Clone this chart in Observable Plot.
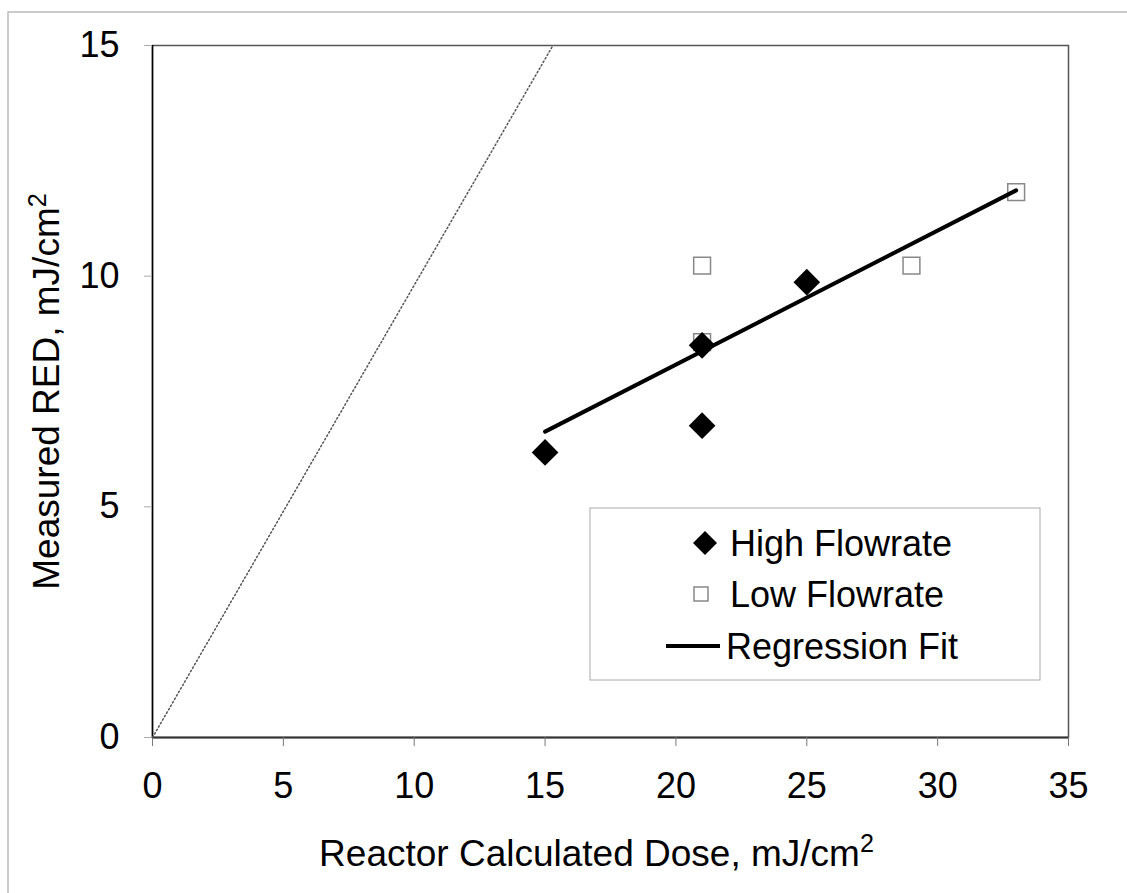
<!DOCTYPE html>
<html><head><meta charset="utf-8">
<script src="https://cdn.jsdelivr.net/npm/d3@7"></script>
<script src="https://cdn.jsdelivr.net/npm/@observablehq/plot@0.6"></script>
<style>
body{margin:0;background:#fff;}
#chart{position:relative;width:1127px;height:893px;}
</style></head><body><div id="chart"></div>
<script>
const highDose = [15, 21, 21, 25];
const highRED = [6.18, 8.5, 6.76, 9.87];
const lowDose = [21, 21, 29, 33];
const lowRED = [10.23, 8.57, 10.23, 11.82];
const fitDose = [15, 33];
const fitRED = [6.63, 11.86];
const refDose = [0, 15.3];
const refRED = [0, 15];
const xTicks = [0, 5, 10, 15, 20, 25, 30, 35];
const yTicks = [0, 5, 10, 15];
const seriesNames = ["High Flowrate", "Low Flowrate", "Regression Fit"];
const xTitle = "Reactor Calculated Dose, mJ/cm²";
const yTitle = "Measured RED, mJ/cm²";

const high = highDose.map((d, i) => ({x: d, y: highRED[i]}));
const low = lowDose.map((d, i) => ({x: d, y: lowRED[i]}));
const fit = fitDose.map((d, i) => ({x: d, y: fitRED[i]}));
const ref = refDose.map((d, i) => ({x: d, y: refRED[i]}));

const FONT = "'Liberation Sans', Arial, sans-serif";

const plot = Plot.plot({
  width: 1127, height: 893,
  marginLeft: 152, marginRight: 59, marginTop: 45, marginBottom: 156,
  style: {fontFamily: FONT, fontSize: "36px", color: "#000", background: "#fff", overflow: "visible"},
  x: {domain: [0, 35], ticks: xTicks},
  y: {domain: [0, 15], ticks: yTicks},
  marks: [
    Plot.frame({stroke: "#555", strokeWidth: 1.5}),
    Plot.ruleX([0], {stroke: "#000", strokeWidth: 1.5}),
    Plot.ruleY([0], {stroke: "#333", strokeWidth: 2}),
    Plot.axisX({ticks: xTicks, tickSize: 9, tickPadding: 26, stroke: "#777", label: null, fontSize: 36}),
    Plot.axisY({ticks: yTicks, tickSize: 8, tickPadding: 25, stroke: "#aaa", label: null, fontSize: 36}),
    Plot.line(ref, {x: "x", y: "y", stroke: "#555", strokeWidth: 1.5, strokeDasharray: "1.5,2.5"}),
    Plot.dot(low, {x: "x", y: "y", symbol: "square", r: 9.5, fill: "none", stroke: "#888", strokeWidth: 1.5}),
    Plot.line(fit, {x: "x", y: "y", stroke: "#000", strokeWidth: 4}),
    Plot.dot(high, {x: "x", y: "y", symbol: "diamond2", r: 12, fill: "#000", stroke: "none"}),
    Plot.text([xTitle], {frameAnchor: "bottom", textAnchor: "middle", dy: 128, dx: -14, fontSize: 37, fill: "#000"}),
    Plot.text([yTitle], {frameAnchor: "left", textAnchor: "middle", rotate: -90, dx: -105, dy: 0, fontSize: 37, fill: "#000"})
  ]
});

document.getElementById("chart").appendChild(plot);

const svg = d3.select(plot);
// render the trailing ² as a raised superscript
svg.selectAll("text").each(function () {
  const t = d3.select(this);
  const s = t.text();
  if (s === xTitle || s === yTitle) {
    t.text(null);
    t.append("tspan").text(s.slice(0, -1));
    t.append("tspan").attr("dy", "-0.55em").attr("font-size", "0.68em").text("2");
  }
});
// outer border
svg.insert("rect", ":first-child")
  .attr("x", 8).attr("y", 12).attr("width", 1140).attr("height", 900)
  .attr("fill", "none").attr("stroke", "#aaa").attr("stroke-width", 1.2);

// legend
const lg = svg.append("g").attr("font-family", FONT).attr("font-size", 36).attr("text-anchor", "start");
lg.append("rect").attr("x", 590).attr("y", 508).attr("width", 450).attr("height", 172)
  .attr("fill", "#fff").attr("stroke", "#aaa").attr("stroke-width", 1);
lg.append("path").attr("d", "M705,531 L717,543 L705,555 L693,543 Z").attr("fill", "#000");
lg.append("rect").attr("x", 694).attr("y", 587).attr("width", 14).attr("height", 14)
  .attr("fill", "none").attr("stroke", "#888").attr("stroke-width", 1.5);
lg.append("line").attr("x1", 666).attr("x2", 720).attr("y1", 646).attr("y2", 646)
  .attr("stroke", "#000").attr("stroke-width", 4);
[[730, 556], [730, 607], [726, 659]].forEach(([x, y], i) => {
  lg.append("text").attr("x", x).attr("y", y).attr("fill", "#000").attr("text-anchor", "start").text(seriesNames[i]);
});
</script></body></html>
